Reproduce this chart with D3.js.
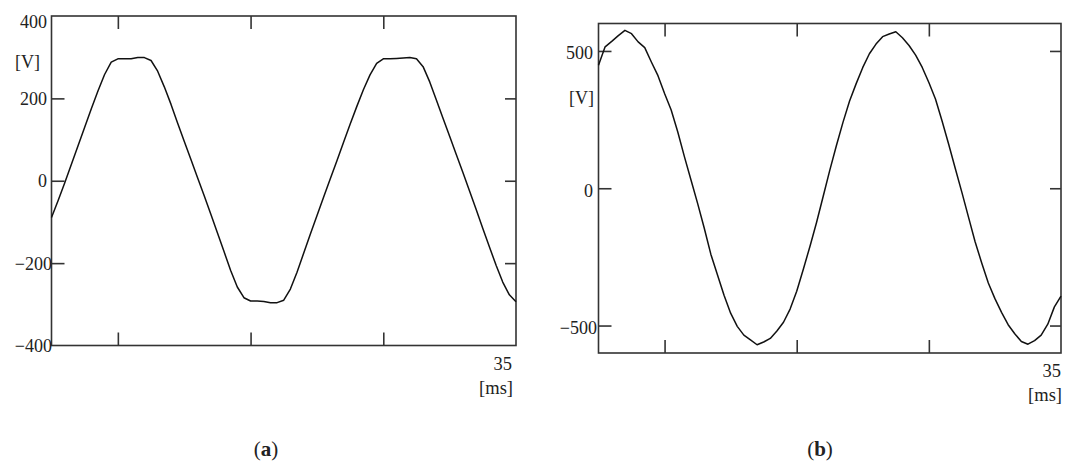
<!DOCTYPE html>
<html>
<head>
<meta charset="utf-8">
<script src="https://cdn.jsdelivr.net/npm/d3@7"></script>
<style>
  html, body { margin: 0; padding: 0; background: #fff; }
  svg { display: block; }
  text { font-family: "Liberation Serif", "Times New Roman", serif; fill: #222; }
</style>
</head>
<body>
<svg id="chart" width="1065" height="464"></svg>
<script>
// ---- Data ----
const timeMs = [0,0.5,1,1.5,2,2.5,3,3.5,4,4.5,5,5.5,6,6.5,7,7.5,8,8.5,9,9.5,10,10.5,11,11.5,12,12.5,13,13.5,14,14.5,15,15.5,16,16.5,17,17.5,18,18.5,19,19.5,20,20.5,21,21.5,22,22.5,23,23.5,24,24.5,25,25.5,26,26.5,27,27.5,28,28.5,29,29.5,30,30.5,31,31.5,32,32.5,33,33.5,34,34.5,35];

// panel (a): clipped (trapezoid-like) voltage [V]
const voltA = [-89,-48,-5,40,85,130,175,218,258,288,296,296,296,299,299,292,266,228,186,140,96,52,8,-36,-81,-126,-172,-218,-258,-284,-292,-292,-293,-296,-296,-290,-263,-222,-176,-130,-85,-40,4,48,93,137,180,221,257,285,296,296,297,298,299,296,277,240,196,152,108,64,20,-25,-70,-116,-161,-205,-246,-277,-294];

// panel (b): sinusoidal voltage with ripple [V]
const voltB = [448,515,535,556,575,563,533,512,460,410,345,285,205,115,30,-55,-145,-240,-315,-390,-455,-503,-535,-552,-570,-560,-547,-520,-488,-440,-375,-295,-212,-125,-30,65,155,240,318,381,440,490,525,552,562,570,548,520,485,440,385,325,245,160,72,-15,-105,-195,-272,-345,-402,-452,-497,-530,-558,-568,-555,-535,-495,-432,-393];

const xTickValues = [5, 15, 25];
const yTicksA = [400, 200, 0, -200, -400];
const yTicksB = [500, 0, -500];
const xEndLabel = "35";
const xUnit = "[ms]";
const yUnit = "[V]";
const captions = ["a", "b"];

// ---- Drawing ----
const svg = d3.select("#chart");

function drawPanel(o) {
  const x = d3.scaleLinear().domain([0, 35]).range([o.left, o.right]);
  const y = d3.scaleLinear().domain(o.yDomain).range([o.bottom, o.top]);
  const g = svg.append("g");
  const tick = 13;
  const innerY = o.yTicks.filter(v => v > o.yDomain[0] && v < o.yDomain[1]);

  const axes = [
    d3.axisBottom(x).tickValues(xTickValues).tickSize(tick).tickFormat(""),
    d3.axisTop(x).tickValues(xTickValues).tickSize(tick).tickFormat(""),
    d3.axisRight(y).tickValues(innerY).tickSize(tick).tickFormat(""),
    d3.axisLeft(y).tickValues(innerY).tickSize(tick - 2).tickFormat("")
  ];
  const pos = [
    `translate(0,${o.top})`, `translate(0,${o.bottom})`,
    `translate(${o.left},0)`, `translate(${o.right},0)`
  ];
  axes.forEach((a, i) => {
    const ag = g.append("g").attr("transform", pos[i]).call(a);
    ag.select(".domain").remove();
    ag.selectAll("line").attr("stroke", "#333").attr("stroke-width", 1.6);
  });

  g.append("rect")
    .attr("x", o.left).attr("y", o.top)
    .attr("width", o.right - o.left).attr("height", o.bottom - o.top)
    .attr("fill", "none").attr("stroke", "#333").attr("stroke-width", 1.6);

  const line = d3.line().x((d, i) => x(timeMs[i])).y(d => y(d));
  g.append("path").datum(o.values)
    .attr("d", line)
    .attr("fill", "none").attr("stroke", "#111").attr("stroke-width", 1.5)
    .attr("stroke-linejoin", "round");

  g.selectAll("text.ylab").data(o.yTicks).enter().append("text")
    .attr("class", "ylab")
    .attr("x", d => d < 0 ? o.negX : o.posX)
    .attr("y", d => Math.max(y(d) + o.labDy, o.top + 12))
    .attr("text-anchor", "end")
    .attr("font-size", 18)
    .text(d => d < 0 ? "\u2212" + Math.abs(d) : String(d));

  g.append("text").attr("x", o.unitX).attr("y", o.unitY)
    .attr("text-anchor", "end").attr("font-size", 18).text(yUnit);

  g.append("text").attr("x", o.right - o.endPad).attr("y", o.bottom + 24)
    .attr("text-anchor", "end").attr("font-size", 18.5).text(xEndLabel);
  g.append("text").attr("x", o.right - o.endPad + 1).attr("y", o.bottom + 48)
    .attr("text-anchor", "end").attr("font-size", 18.5).text(xUnit);

  const c = g.append("text").attr("x", o.capX).attr("y", 456)
    .attr("text-anchor", "middle").attr("font-size", 21);
  c.append("tspan").text("(");
  c.append("tspan").attr("font-weight", "bold").text(o.caption);
  c.append("tspan").text(")");
}

drawPanel({
  left: 51.5, right: 516, top: 16, bottom: 345.5,
  yDomain: [-400, 400], yTicks: yTicksA, values: voltA,
  posX: 47, negX: 52, labDy: 6.5, unitX: 40, unitY: 68, endPad: 4,
  capX: 266, caption: captions[0]
});

drawPanel({
  left: 598.5, right: 1061, top: 23.5, bottom: 353,
  yDomain: [-600, 600], yTicks: yTicksB, values: voltB,
  posX: 593, negX: 597, labDy: 8.5, unitX: 594, unitY: 104, endPad: 0,
  capX: 820, caption: captions[1]
});
</script>
</body>
</html>
